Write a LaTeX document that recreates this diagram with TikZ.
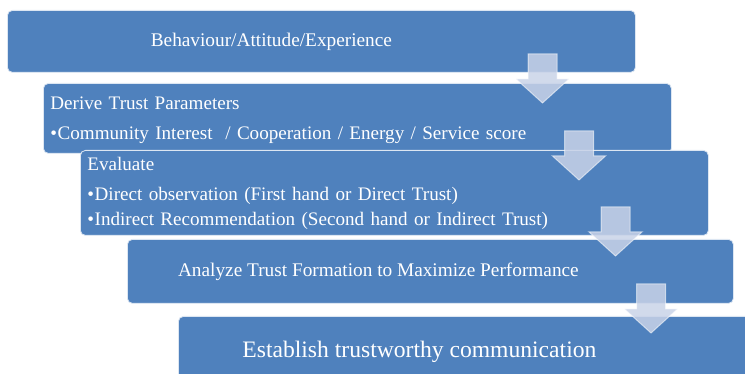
\documentclass[tikz,border=0pt]{standalone}
\usepackage{fontspec}
\setmainfont{Liberation Serif}
\begin{document}
\begin{tikzpicture}[x=1pt,y=-1pt,
  stage/.style={draw=white!80!stageblue, line width=0.8pt, fill=stageblue,
    rounded corners=5pt, anchor=north west, inner sep=0pt, text=white,
    font=\fontsize{19.3}{25.5}\selectfont},
  stagelist/.style={stage, align=left, inner xsep=7pt,
    font=\fontsize{19.1}{25.5}\selectfont},
  flowarrow/.style={fill=arrowfill, fill opacity=0.85,
    draw=white, draw opacity=0.55, line width=1pt, line join=miter}
]
\definecolor{stageblue}{HTML}{4F81BD}
\definecolor{arrowfill}{HTML}{C9D3E8}
\newcommand{\itembullet}{•\hspace{0.6pt}}
\useasboundingbox (0,0) rectangle (745,374);

% stages, each shifted right of the one above
\node[stage, minimum width=628pt, minimum height=62pt] (s1) at (7,10)
  {\hspace*{-100pt}Behaviour/Attitude/Experience};
\node[stagelist, text width=614pt, minimum height=70pt] (s2) at (43,83)
  {\rule{0pt}{16pt}Derive Trust Parameters\\[4pt]
   \itembullet Community Interest\ \ / Cooperation / Energy / Service score};
\node[stagelist, text width=614pt, minimum height=85pt] (s3) at (80,150)
  {\rule{0pt}{15pt}Evaluate\\[4pt]
   \itembullet Direct observation (First hand or Direct Trust)\\
   \itembullet Indirect Recommendation (Second hand or Indirect Trust)};
\node[stage, minimum width=606pt, minimum height=64pt] (s4) at (127,239)
  {\hspace*{-104pt}Analyze Trust Formation to Maximize Performance};
\node[stage, minimum width=580pt, minimum height=70pt,
  font=\fontsize{23.6}{28}\selectfont] (s5) at (178,316)
  {\hspace*{-98pt}\raisebox{1.5pt}{Establish trustworthy communication}};

% block arrows between consecutive stages
\newcommand{\blockarrow}[2]{%
  \draw[flowarrow] (#1-14.5,#2) -- (#1+14.5,#2) -- (#1+14.5,#2+25)
    -- (#1+26.5,#2+25) -- (#1,#2+49) -- (#1-26.5,#2+25)
    -- (#1-14.5,#2+25) -- cycle;}
\blockarrow{542.5}{54}
\blockarrow{579}{131}
\blockarrow{615.5}{207}
\blockarrow{651}{284}
\end{tikzpicture}
\end{document}
